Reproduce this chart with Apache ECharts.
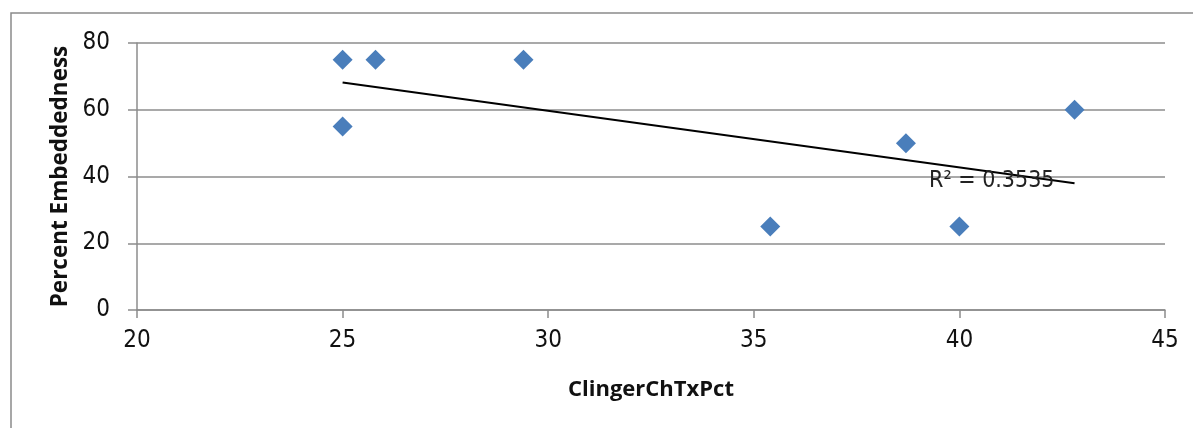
<!DOCTYPE html>
<html><head><meta charset="utf-8">
<script src="https://cdn.jsdelivr.net/npm/echarts@6/dist/echarts.min.js"></script>
<style>html,body{margin:0;padding:0;background:#fff}#c{width:1193px;height:428px}</style>
</head><body><div id="c"></div>
<script>
const xValues = [25, 25, 25.8, 29.4, 35.4, 38.7, 40, 42.8];
const yValues = [75, 55, 75, 75, 25, 50, 25, 60];
const xTicks = [20, 25, 30, 35, 40, 45];
const yTicks = [0, 20, 40, 60, 80];
const xTitle = 'ClingerChTxPct';
const yTitle = 'Percent Embeddedness';
const r2Label = 'R² = 0.3535';

const n = xValues.length;
const mx = xValues.reduce((a,b)=>a+b,0)/n, my = yValues.reduce((a,b)=>a+b,0)/n;
let sxy=0, sxx=0;
for (let i=0;i<n;i++){ sxy+=(xValues[i]-mx)*(yValues[i]-my); sxx+=(xValues[i]-mx)**2; }
const slope = sxy/sxx, icpt = my - slope*mx;
const xmin = Math.min(...xValues), xmax = Math.max(...xValues);
const trend = [[xmin, icpt+slope*xmin],[xmax, icpt+slope*xmax]];

const tickFont = "'Liberation Sans Narrow','DejaVu Sans Condensed',sans-serif";
const titleFont = "'Open Sans',Lato,sans-serif";
const chart = echarts.init(document.getElementById('c'));
chart.setOption({
  animation:false,
  grid:{left:137,right:28,top:43,bottom:118,containLabel:false},
  graphic:[
    {type:'rect',shape:{x:11,y:13,width:1300,height:500},style:{fill:'none',stroke:'#8a8a8a',lineWidth:1.5},z:-1},
    {type:'text',left:929,top:170,style:{text:r2Label,font:"23px "+tickFont,fill:'#222'},z:10}
  ],
  xAxis:{type:'value',min:20,max:45,interval:5,
    name:xTitle,nameLocation:'middle',nameGap:69,
    nameTextStyle:{fontFamily:titleFont,fontWeight:'bold',fontSize:22,color:'#111'},
    axisLine:{lineStyle:{color:'#8c8c8c',width:1.5}},
    axisTick:{show:true,length:8,lineStyle:{color:'#8c8c8c',width:1.5}},
    axisLabel:{fontFamily:tickFont,fontSize:24,color:'#111',margin:19},
    splitLine:{show:false}},
  yAxis:{type:'value',min:0,max:80,interval:20,
    name:yTitle,nameLocation:'middle',nameGap:64,nameRotate:90,
    nameTextStyle:{fontFamily:titleFont,fontWeight:'bold',fontSize:22.5,color:'#111'},
    axisLine:{show:true,lineStyle:{color:'#8c8c8c',width:1.5}},
    axisTick:{show:true,length:9,lineStyle:{color:'#8c8c8c',width:1.5}},
    axisLabel:{fontFamily:tickFont,fontSize:24,color:'#111',margin:27},
    splitLine:{show:true,lineStyle:{color:'#8c8c8c',width:1.5}}},
  series:[
    {type:'scatter',symbol:'diamond',symbolSize:20,
     itemStyle:{color:'#4a7ebb',opacity:1},data:xValues.map((x,i)=>[x,yValues[i]]),z:3},
    {type:'line',data:trend,symbol:'none',lineStyle:{color:'#000',width:2},z:4}
  ]
});
</script></body></html>
